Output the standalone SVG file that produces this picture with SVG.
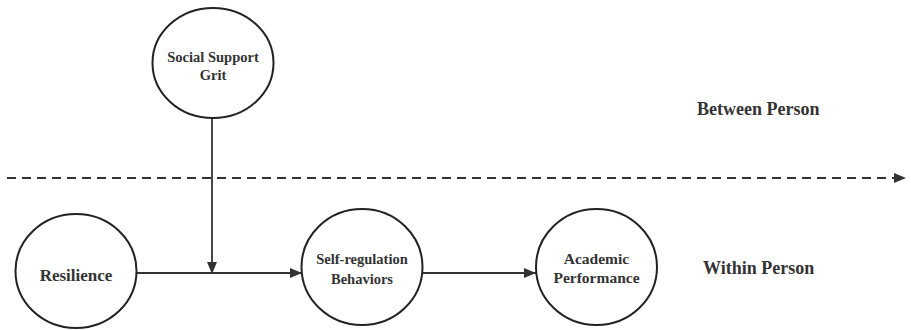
<svg xmlns="http://www.w3.org/2000/svg" width="911" height="330" viewBox="0 0 911 330">
<style>
.node{fill:#fff;stroke:#222;stroke-width:2}
.t{font-family:'Liberation Serif','Times New Roman','DejaVu Serif',serif;font-weight:700;fill:#333;text-anchor:middle}
.s{font-size:14.5px}
.lbl{font-family:'Liberation Serif','Times New Roman','DejaVu Serif',serif;font-weight:700;fill:#333;font-size:18px}
.edge{stroke:#333;stroke-width:1.8;fill:none}
</style>
<defs>
<marker id="ah" viewBox="0 0 12 10" refX="12" refY="5" markerWidth="12" markerHeight="10" markerUnits="userSpaceOnUse" orient="auto">
<path d="M0,0 L12,5 L0,10 Z" fill="#333"/>
</marker>
</defs>
<g id="connectors">
<line class="edge" x1="7" y1="178" x2="906" y2="178" stroke-dasharray="9,6" marker-end="url(#ah)"/>
<line class="edge" x1="137" y1="273" x2="302" y2="273" marker-end="url(#ah)"/>
<line class="edge" x1="212" y1="118" x2="212" y2="274" marker-end="url(#ah)"/>
<line class="edge" x1="422" y1="273" x2="536" y2="273" marker-end="url(#ah)"/>
</g>
<g id="social-support">
<ellipse class="node" cx="213" cy="63" rx="60.5" ry="55"/>
<text class="t s" x="213" y="62">Social Support</text>
<text class="t s" x="213" y="80">Grit</text>
</g>
<g id="resilience">
<ellipse class="node" cx="76" cy="271" rx="60.5" ry="57"/>
<text class="t" x="76" y="281" font-size="17">Resilience</text>
</g>
<g id="self-regulation">
<ellipse class="node" cx="362" cy="267" rx="60.5" ry="58"/>
<text class="t s" x="362" y="264">Self-regulation</text>
<text class="t s" x="362" y="284">Behaviors</text>
</g>
<g id="academic">
<ellipse class="node" cx="596.5" cy="267" rx="60.5" ry="58"/>
<text class="t" x="596.5" y="264" font-size="15.5">Academic</text>
<text class="t" x="596.5" y="283" font-size="15.5">Performance</text>
</g>
<g id="labels">
<text class="lbl" x="697" y="115">Between Person</text>
<text class="lbl" x="703" y="274">Within Person</text>
</g>
</svg>
